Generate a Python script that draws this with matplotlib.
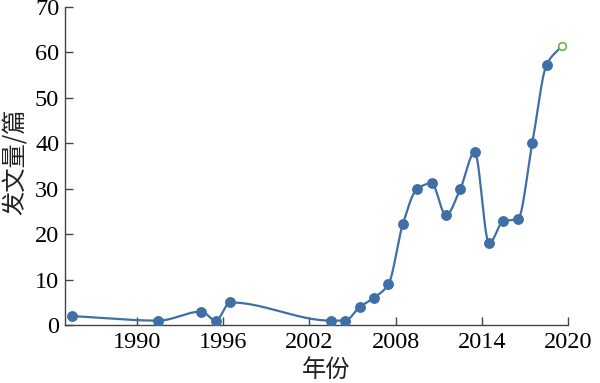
import numpy as np
import matplotlib
matplotlib.use("Agg")
import matplotlib.pyplot as plt

# data (x = position along the year axis)
nian = [1985.5, 1991.5, 1994.5, 1995.5, 1996.5, 2003.5, 2004.5, 2005.5, 2006.5,
        2007.5, 2008.5, 2009.5, 2010.5, 2011.5, 2012.5, 2013.5, 2014.5, 2015.5,
        2016.5, 2017.5, 2018.5]
pocet = [2, 1, 3, 1, 5, 1, 1, 4, 6, 9, 22.2, 30, 31.2, 24.2, 30, 38, 18, 22.9,
         23.3, 40, 57.3]
odhad_x = 2019.6
odhad_y = 61.5
xticky = [1990, 1996, 2002, 2008, 2014, 2020]
yticky = [0, 10, 20, 30, 40, 50, 60, 70]

modra = "#3f6fa6"
zelena = "#6cb24a"


def pchip(x, y, xn):
    # monotone cubic hermite, jen kvuli hladke care
    x = np.asarray(x, float)
    y = np.asarray(y, float)
    h = np.diff(x)
    d = np.diff(y) / h
    m = np.zeros_like(y)
    for k in range(1, len(x) - 1):
        if d[k - 1] * d[k] > 0:
            w1 = 2 * h[k] + h[k - 1]
            w2 = h[k] + 2 * h[k - 1]
            m[k] = (w1 + w2) / (w1 / d[k - 1] + w2 / d[k])
    m[0] = d[0]
    m[-1] = d[-1]
    idx = np.clip(np.searchsorted(x, xn) - 1, 0, len(x) - 2)
    t = (xn - x[idx]) / h[idx]
    h00 = 2 * t**3 - 3 * t**2 + 1
    h10 = t**3 - 2 * t**2 + t
    h01 = -2 * t**3 + 3 * t**2
    h11 = t**3 - t**2
    return h00 * y[idx] + h10 * h[idx] * m[idx] + h01 * y[idx + 1] + h11 * h[idx] * m[idx + 1]


vsechny_x = nian + [odhad_x]
vsechny_y = pocet + [odhad_y]
xx = np.linspace(vsechny_x[0], vsechny_x[-1], 800)
yy = pchip(vsechny_x, vsechny_y, xx)

plt.rcParams['font.family'] = ['Liberation Serif', 'Noto Sans CJK SC']
fig = plt.figure(figsize=(6, 3.83), dpi=100)
ax = fig.add_axes([0.108, 0.151, 0.839, 0.831])

ax.plot(xx, yy, color=modra, lw=1.6, zorder=2)
ax.plot(nian, pocet, "o", color=modra, ms=6.8, zorder=3)
ax.plot([odhad_x], [odhad_y], "o", mfc="white", mec=zelena, mew=1.2, ms=5.5, zorder=4)

ax.set_xlim(1985, 2020)
ax.set_ylim(0, 70)
ax.set_xticks(xticky)
ax.set_yticks(yticky)
ax.spines["top"].set_visible(False)
ax.spines["right"].set_visible(False)
for s in ["left", "bottom"]:
    ax.spines[s].set_color("#444444")
    ax.spines[s].set_linewidth(1.0)
ax.tick_params(direction="in", length=6, width=1, color="#444444",
               labelsize=17.5)
ax.tick_params(axis="x", pad=5)
ax.tick_params(axis="y", pad=4)

ax.set_xlabel("年份", family=['Noto Sans CJK SC'], fontsize=17.5,
              fontweight="light", color="#222222", va="center", ha="center")
ax.xaxis.set_label_coords(0.52, -0.142)
ax.set_ylabel("发文量/篇", family=['Noto Sans CJK SC'], fontsize=17.5,
              fontweight="light", color="#222222", va="center", ha="center")
ax.yaxis.set_label_coords(-0.1, 0.513)

fig.savefig("out.png", dpi=100)
